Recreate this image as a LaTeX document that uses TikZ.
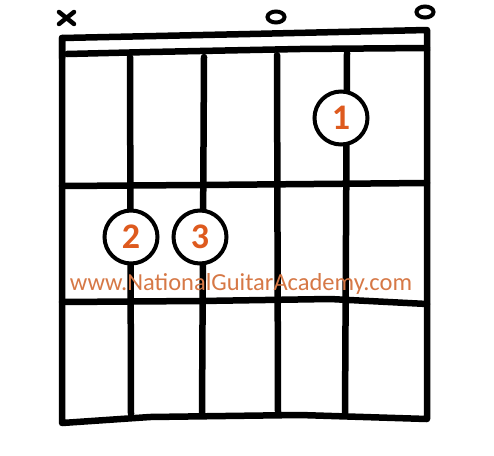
\documentclass[tikz,border=0pt]{standalone}
\usepackage{fontspec}
\newfontfamily\wmfont{Carlito}
\definecolor{fingerorange}{RGB}{222,90,30}
\definecolor{markorange}{RGB}{214,120,70}
\tikzset{
	grid/.style={line width=6.5pt, line cap=round, line join=round},
	finger/.style={circle, draw, line width=4pt, fill=white, minimum size=53pt, inner sep=0pt,
		text=fingerorange, font=\wmfont\bfseries\fontsize{36}{36}\selectfont},
	openmark/.style={ellipse, draw, line width=4pt, minimum width=17pt, minimum height=11pt, inner sep=0pt},
}
\usetikzlibrary{shapes.geometric}
\begin{document}
\begin{tikzpicture}[x=1pt,y=-1pt]
	\useasboundingbox (0,0) rectangle (494,455);

	% frame
	\draw[grid] (62,58) -- (62,38) -- (250,34) -- (427,30) -- (427,50);
	\draw[grid] (62,38) -- (62,423) -- (150,417) -- (300,415) -- (427,419) -- (427,50);

	% nut
	\draw[grid] (67,54) -- (150,52) -- (300,49) -- (427,48);

	% frets
	\draw[grid] (62,186) -- (200,185) -- (427,183);
	\draw[grid] (62,302) -- (200,301) -- (330,299) -- (427,304);

	% strings
	\draw[grid] (130,57) -- (131,414);
	\draw[grid] (204,57) -- (202,413);
	\draw[grid] (277,55) -- (278,413);
	\draw[grid] (347,53) -- (345,415);

	% fingers
	\node[finger] (f1) at (341,118) {1};
	\node[finger] (f2) at (131,237) {2};
	\node[finger] (f3) at (200,237) {3};

	% muted and open strings
	\draw[line width=4.5pt, line cap=round] (59,12) -- (74,24);
	\draw[line width=4.5pt, line cap=round] (59,24) -- (74,12);
	\node[openmark] (o4) at (276,17) {};
	\node[openmark] (o6) at (425,12) {};

	% watermark
	\node[text=markorange, font=\wmfont\fontsize{24.5}{24.5}\selectfont] (wm) at (241,284) {www.NationalGuitarAcademy.com};

\end{tikzpicture}
\end{document}
